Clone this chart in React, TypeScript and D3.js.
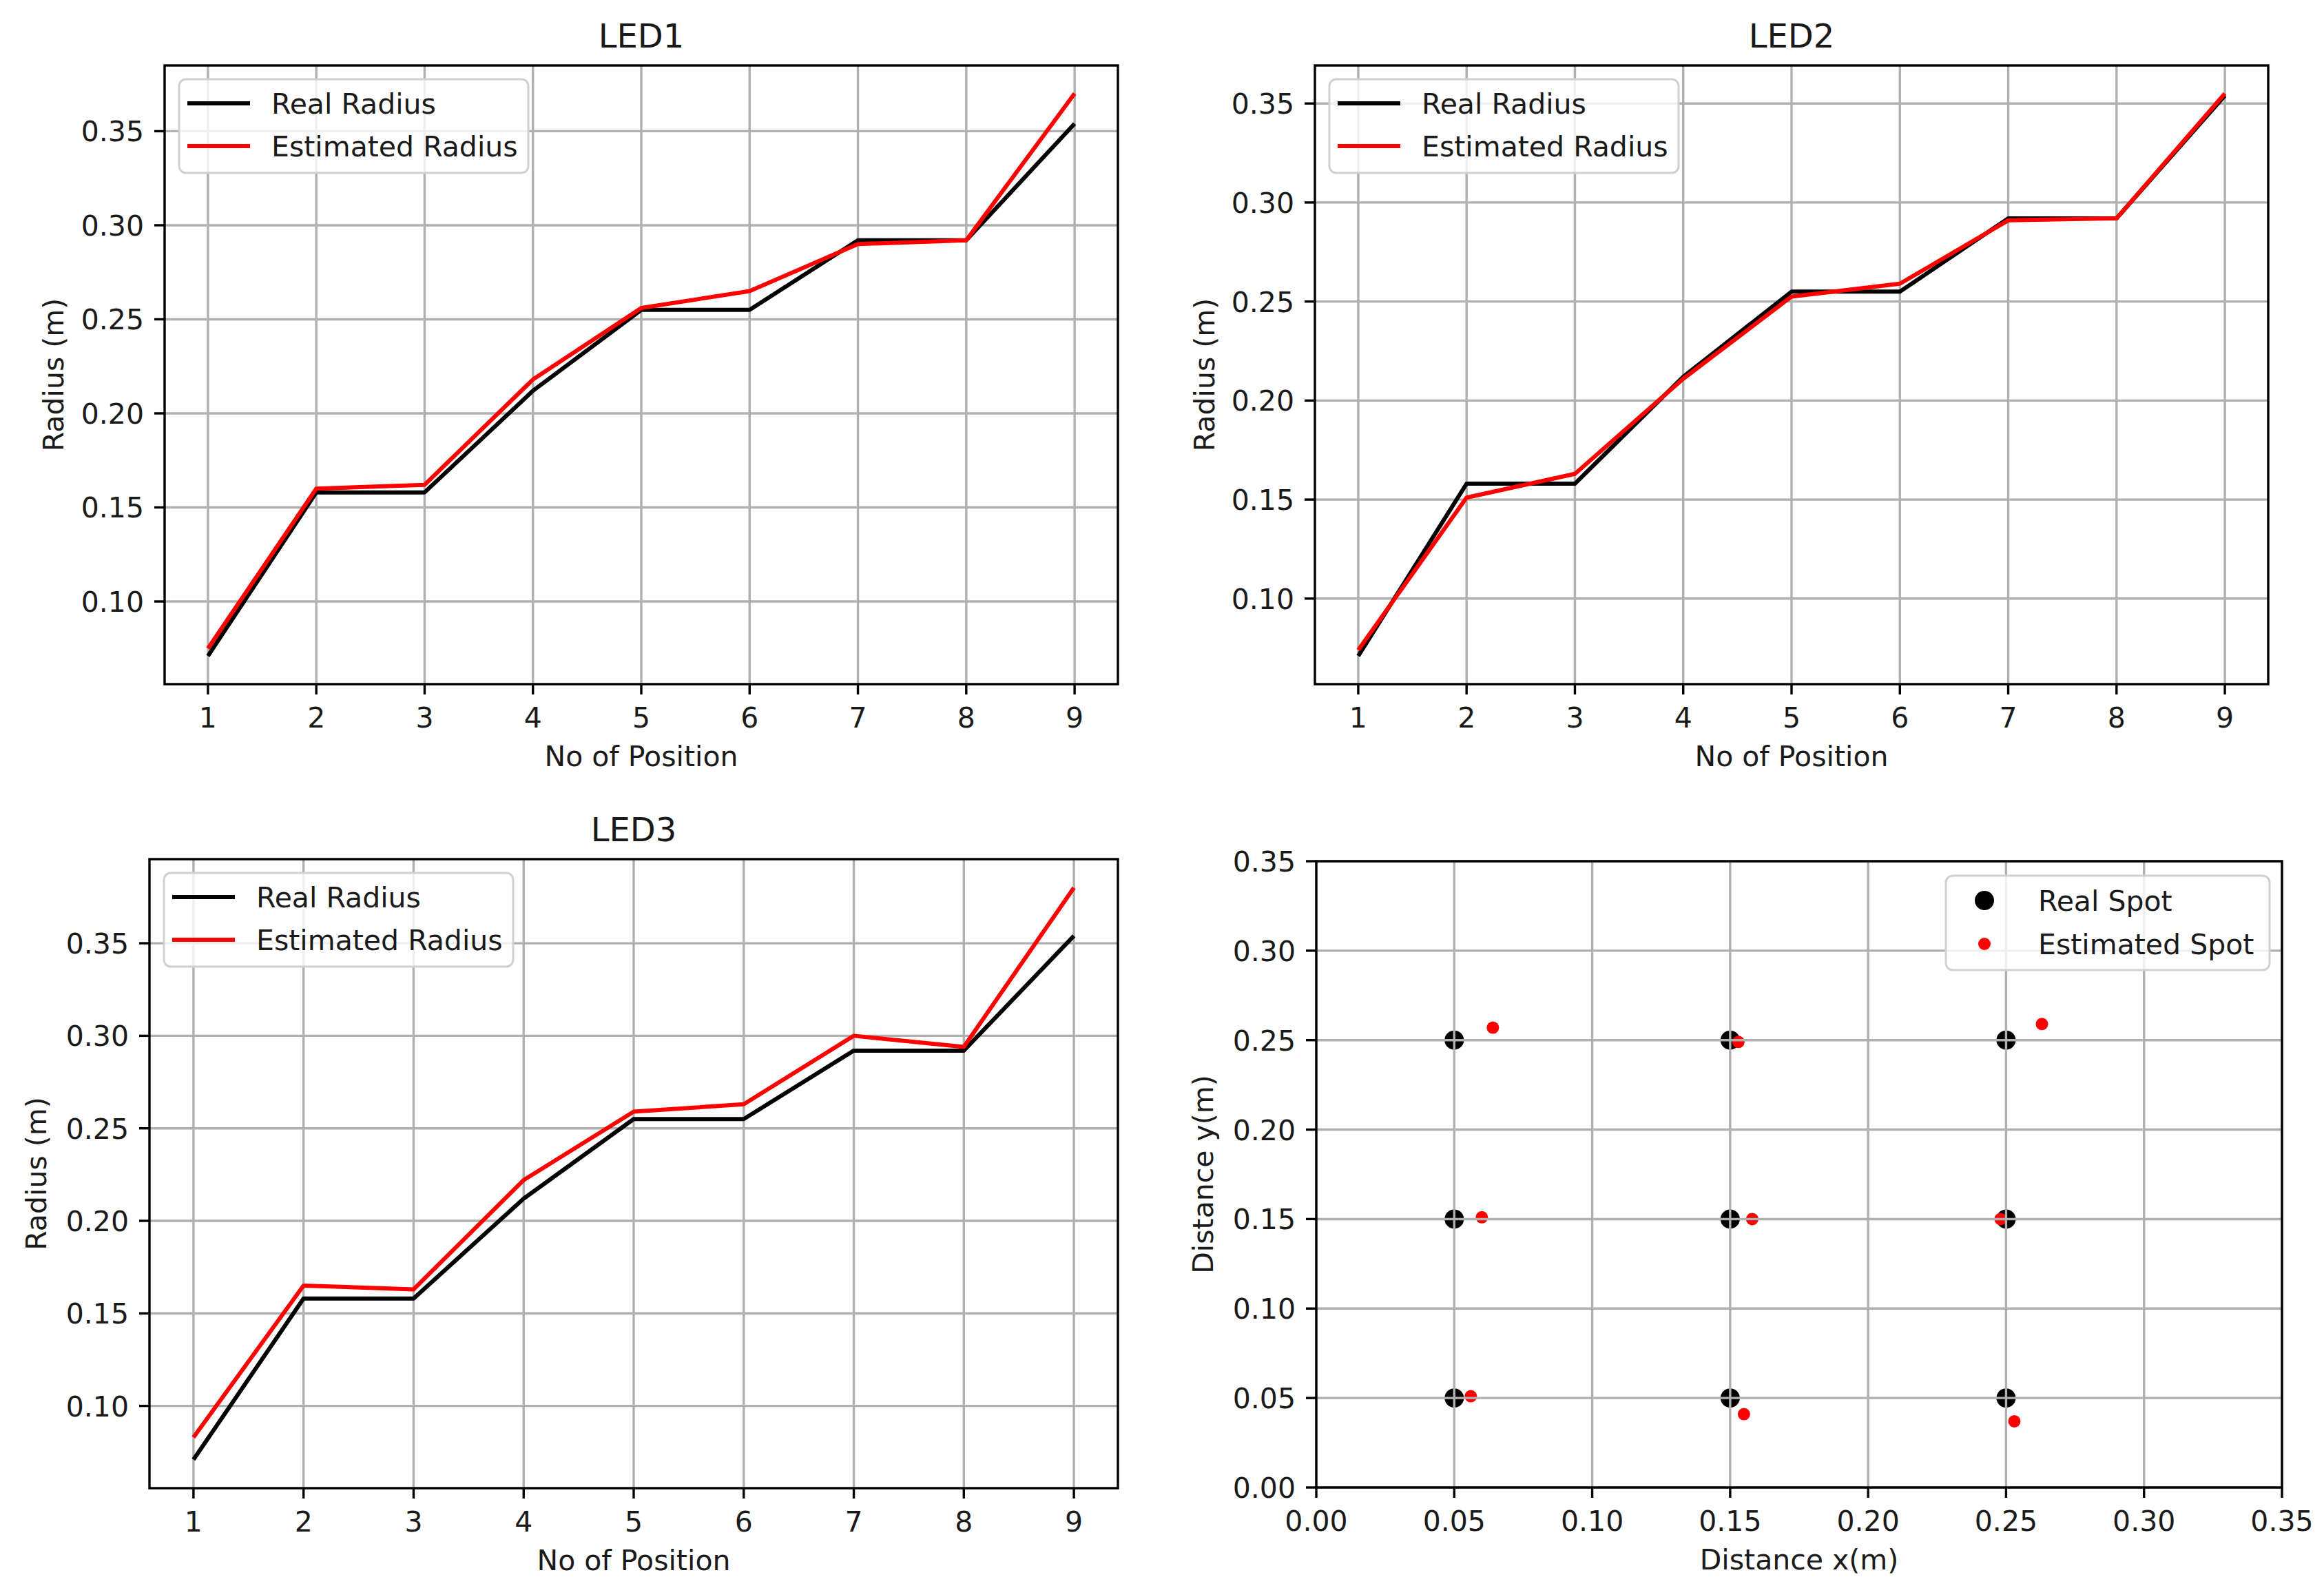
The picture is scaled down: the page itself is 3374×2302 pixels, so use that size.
import React from 'react';
import * as d3 from 'd3';

// x positions and radii
const positions = [1, 2, 3, 4, 5, 6, 7, 8, 9];
const realRadius = [0.071, 0.158, 0.158, 0.212, 0.255, 0.255, 0.292, 0.292, 0.354];
const estRadiusLED1 = [0.075, 0.16, 0.162, 0.218, 0.256, 0.265, 0.29, 0.292, 0.37];
const estRadiusLED2 = [0.074, 0.151, 0.163, 0.211, 0.2525, 0.259, 0.291, 0.292, 0.355];
const estRadiusLED3 = [0.083, 0.165, 0.163, 0.222, 0.259, 0.263, 0.3, 0.294, 0.38];

const positionTicks = [1, 2, 3, 4, 5, 6, 7, 8, 9];
const radiusTicks = [0.1, 0.15, 0.2, 0.25, 0.3, 0.35];
const distanceTicks = [0, 0.05, 0.1, 0.15, 0.2, 0.25, 0.3, 0.35];

// spot map
const realSpotX = [0.05, 0.15, 0.25, 0.05, 0.15, 0.25, 0.05, 0.15, 0.25];
const realSpotY = [0.25, 0.25, 0.25, 0.15, 0.15, 0.15, 0.05, 0.05, 0.05];
const estSpotX = [0.064, 0.153, 0.263, 0.06, 0.158, 0.248, 0.056, 0.155, 0.253];
const estSpotY = [0.257, 0.249, 0.259, 0.151, 0.15, 0.15, 0.051, 0.041, 0.037];

const W = 3374;
const H = 2302;
const FONT = 'DejaVu Sans';
const FS = 41;
const GRID = '#b0b0b0';
const LW = 3.4;
const TEXT = '#1a1a1a';

interface Frame {
  left: number;
  right: number;
  top: number;
  bottom: number;
  ylabelX: number;
}

const frames: Frame[] = [
  { left: 239, right: 1623, top: 95, bottom: 993, ylabelX: 92 },
  { left: 1909, right: 3293, top: 95, bottom: 993, ylabelX: 1763 },
  { left: 217, right: 1623, top: 1247, bottom: 2160, ylabelX: 67 },
  { left: 1911, right: 3313, top: 1250, bottom: 2159, ylabelX: 1761 },
];

// matplotlib-like 5% margins
const padded = (vals: number[]): [number, number] => {
  const [lo, hi] = d3.extent(vals) as [number, number];
  const p = (hi - lo) * 0.05;
  return [lo - p, hi + p];
};

const Axes: React.FC<{
  f: Frame;
  x: d3.ScaleLinear<number, number>;
  y: d3.ScaleLinear<number, number>;
  xTicks: number[];
  yTicks: number[];
  xFmt: (v: number) => string;
  yFmt: (v: number) => string;
  xLabel: string;
  yLabel: string;
  title?: string;
}> = ({ f, x, y, xTicks, yTicks, xFmt, yFmt, xLabel, yLabel, title }) => (
  <g fontFamily={FONT} fontSize={FS} fill={TEXT}>
    {xTicks.map(t => (
      <g key={'x' + t}>
        <line x1={x(t)} x2={x(t)} y1={f.bottom} y2={f.bottom + 15} stroke="black" strokeWidth={LW} />
        <text x={x(t)} y={f.bottom + 63} textAnchor="middle">{xFmt(t)}</text>
      </g>
    ))}
    {yTicks.map(t => (
      <g key={'y' + t}>
        <line x1={f.left - 15} x2={f.left} y1={y(t)} y2={y(t)} stroke="black" strokeWidth={LW} />
        <text x={f.left - 30} y={y(t) + 15} textAnchor="end">{yFmt(t)}</text>
      </g>
    ))}
    <text x={(f.left + f.right) / 2} y={f.bottom + 119} textAnchor="middle">{xLabel}</text>
    <text
      transform={`translate(${f.ylabelX},${(f.top + f.bottom) / 2}) rotate(-90)`}
      textAnchor="middle"
    >
      {yLabel}
    </text>
    {title && (
      <text x={(f.left + f.right) / 2} y={f.top - 26} textAnchor="middle" fontSize={48}>
        {title}
      </text>
    )}
  </g>
);

const Grid: React.FC<{
  f: Frame;
  x: d3.ScaleLinear<number, number>;
  y: d3.ScaleLinear<number, number>;
  xTicks: number[];
  yTicks: number[];
}> = ({ f, x, y, xTicks, yTicks }) => (
  <g stroke={GRID} strokeWidth={LW}>
    {xTicks.map(t => (
      <line key={'gx' + t} x1={x(t)} x2={x(t)} y1={f.top} y2={f.bottom} />
    ))}
    {yTicks.map(t => (
      <line key={'gy' + t} x1={f.left} x2={f.right} y1={y(t)} y2={y(t)} />
    ))}
  </g>
);

const LinePanel: React.FC<{ f: Frame; title: string; est: number[] }> = ({ f, title, est }) => {
  const x = d3.scaleLinear().domain(padded(positions)).range([f.left, f.right]);
  const y = d3.scaleLinear().domain(padded(realRadius.concat(est))).range([f.bottom, f.top]);
  const line = d3
    .line<number>()
    .x((_, i) => x(positions[i]))
    .y(d => y(d));

  const lx = f.left + 21;
  const ly = f.top + 20;
  return (
    <g>
      <Grid f={f} x={x} y={y} xTicks={positionTicks} yTicks={radiusTicks} />
      <path d={line(realRadius) ?? ''} fill="none" stroke="black" strokeWidth={6} strokeLinejoin="round" />
      <path d={line(est) ?? ''} fill="none" stroke="#ff0000" strokeWidth={6} strokeLinejoin="round" />
      <rect x={f.left} y={f.top} width={f.right - f.left} height={f.bottom - f.top} fill="none" stroke="black" strokeWidth={LW} />
      <Axes
        f={f}
        x={x}
        y={y}
        xTicks={positionTicks}
        yTicks={radiusTicks}
        xFmt={d3.format('d')}
        yFmt={d3.format('.2f')}
        xLabel="No of Position"
        yLabel="Radius (m)"
        title={title}
      />
      <g>
        <rect x={lx} y={ly} width={507} height={136} rx={10} fill="white" fillOpacity={0.8} stroke="#d0d0d0" strokeWidth={3} />
        <line x1={lx + 12} x2={lx + 103} y1={ly + 35} y2={ly + 35} stroke="black" strokeWidth={6} />
        <line x1={lx + 12} x2={lx + 103} y1={ly + 97} y2={ly + 97} stroke="#ff0000" strokeWidth={6} />
        <text x={lx + 134} y={ly + 50} fontFamily={FONT} fontSize={FS} fill={TEXT}>Real Radius</text>
        <text x={lx + 134} y={ly + 112} fontFamily={FONT} fontSize={FS} fill={TEXT}>Estimated Radius</text>
      </g>
    </g>
  );
};

const SpotPanel: React.FC<{ f: Frame }> = ({ f }) => {
  const x = d3.scaleLinear().domain([0, 0.35]).range([f.left, f.right]);
  const y = d3.scaleLinear().domain([0, 0.35]).range([f.bottom, f.top]);
  const lw = 470;
  const lx = f.right - 18 - lw;
  const ly = f.top + 21;
  return (
    <g>
      <g>
        {realSpotX.map((v, i) => (
          <circle key={'r' + i} cx={x(v)} cy={y(realSpotY[i])} r={14} fill="black" />
        ))}
        {estSpotX.map((v, i) => (
          <circle key={'e' + i} cx={x(v)} cy={y(estSpotY[i])} r={9} fill="#ff0000" />
        ))}
      </g>
      <Grid f={f} x={x} y={y} xTicks={distanceTicks} yTicks={distanceTicks} />
      <rect x={f.left} y={f.top} width={f.right - f.left} height={f.bottom - f.top} fill="none" stroke="black" strokeWidth={LW} />
      <Axes
        f={f}
        x={x}
        y={y}
        xTicks={distanceTicks}
        yTicks={distanceTicks}
        xFmt={d3.format('.2f')}
        yFmt={d3.format('.2f')}
        xLabel="Distance x(m)"
        yLabel="Distance y(m)"
      />
      <g>
        <rect x={lx} y={ly} width={lw} height={137} rx={10} fill="white" fillOpacity={0.8} stroke="#d0d0d0" strokeWidth={3} />
        <circle cx={lx + 56} cy={ly + 36} r={14} fill="black" />
        <circle cx={lx + 56} cy={ly + 99} r={9} fill="#ff0000" />
        <text x={lx + 134} y={ly + 51} fontFamily={FONT} fontSize={FS} fill={TEXT}>Real Spot</text>
        <text x={lx + 134} y={ly + 114} fontFamily={FONT} fontSize={FS} fill={TEXT}>Estimated Spot</text>
      </g>
    </g>
  );
};

const App: React.FC = () => (
  <svg
    width={W}
    height={H}
    viewBox={`0 0 ${W} ${H}`}
    style={{ position: 'absolute', left: 0, top: 0, background: 'white' }}
  >
    <rect width={W} height={H} fill="white" />
    <LinePanel f={frames[0]} title="LED1" est={estRadiusLED1} />
    <LinePanel f={frames[1]} title="LED2" est={estRadiusLED2} />
    <LinePanel f={frames[2]} title="LED3" est={estRadiusLED3} />
    <SpotPanel f={frames[3]} />
  </svg>
);

export default App;
